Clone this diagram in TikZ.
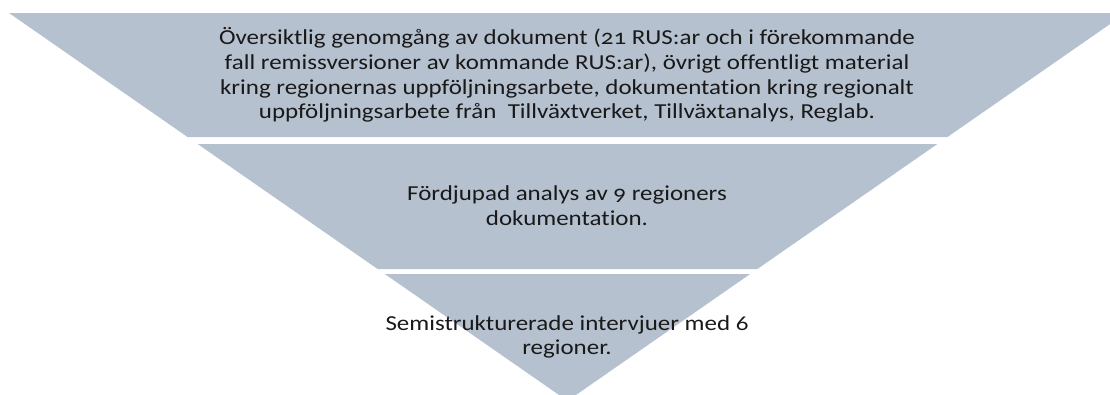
\documentclass[tikz,border=0pt]{standalone}
\usepackage{fontspec}
\setmainfont[Numbers=OldStyle,FakeStretch=1.17,Ligatures=NoCommon]{Carlito}
\usetikzlibrary{calc,positioning}
\definecolor{bandblue}{RGB}{182,193,208}

\begin{document}
\begin{tikzpicture}[x=0.75pt,y=-0.75pt]

\tikzset{band/.style={fill=bandblue,draw=none},
bandtext/.style={font=\fontsize{16}{18.6}\selectfont,align=center,text=black!90,inner sep=0pt}}

% Frame
\useasboundingbox (0,0) rectangle (1110,394);
\clip (0,0) rectangle (1110,394);

% Bands (one inverted triangle, cut in three)
\foreach \ya/\yb in {13/137, 144/269, 274/401}
  \fill[band] ({9+(\ya-13)*1.44},\ya) -- ({1126-(\ya-13)*1.44},\ya) -- ({1126-(\yb-13)*1.44},\yb) -- ({9+(\yb-13)*1.44},\yb) -- cycle;

% Texts
\node[bandtext] (n1) at (567,75) {Översiktlig genomgång av dokument (21 RUS:ar och i förekommande\\ fall remissversioner av kommande RUS:ar), övrigt offentligt material\\ kring regionernas uppföljningsarbete, dokumentation kring regionalt\\ uppföljningsarbete från\ \ Tillväxtverket, Tillväxtanalys, Reglab.};
\node[bandtext] (n2) at (567,206) {Fördjupad analys av 9 regioners\\ dokumentation.};
\node[bandtext] (n3) at (567,337) {Semistrukturerade intervjuer med 6\\ regioner.};

\end{tikzpicture}
\end{document}
